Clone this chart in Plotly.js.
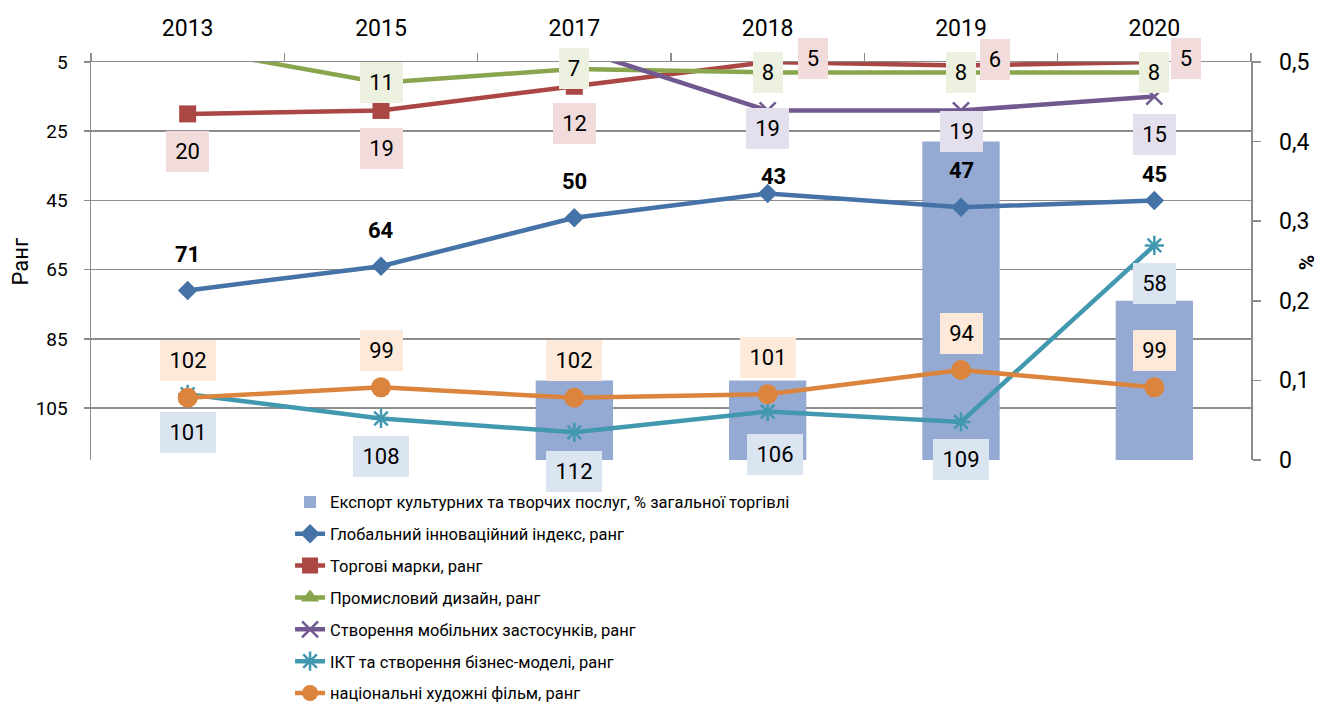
<!DOCTYPE html>
<html><head><meta charset="utf-8">
<script src="https://cdn.plot.ly/plotly-3.0.1.min.js"></script>
<style>body{margin:0;background:#fff}#chart{width:1320px;height:707px}</style>
</head><body><div id="chart"></div>
<script>
// ---- data ----
const years = ['2013', '2015', '2017', '2018', '2019', '2020'];
const exportShare = [null, null, 0.1, 0.1, 0.4, 0.2];
const giiRank = [71, 64, 50, 43, 47, 45];
const trademarkRank = [20, 19, 12, 5, 6, 5];
const designRank = [1, 11, 7, 8, 8, 8];
const mobileAppsRank = [null, null, 1, 19, 19, 15];
const ictRank = [101, 108, 112, 106, 109, 58];
const filmRank = [102, 99, 102, 101, 94, 99];

const seriesNames = [
  'Експорт культурних та творчих послуг, % загальної торгівлі',
  'Глобальний інноваційний індекс, ранг',
  'Торгові марки, ранг',
  'Промисловий дизайн, ранг',
  'Створення мобільних застосунків, ранг',
  'ІКТ та створення бізнес-моделі, ранг',
  'національні художні фільм, ранг'
];

// ---- style ----
const FONT = 'Roboto, "Noto Sans", sans-serif';
const GREY = '#8c8c8c';
const rankRange = [120, 5];

const lineSeries = [
  {values: giiRank, color: '#4572A7', symbol: 'diamond', size: 15, label: {bg: 'rgba(0,0,0,0)', bold: true, dx: [0,0,0,6,0,0], dy: [35.5,36,36,17.5,36.5,25.5]}},
  {values: trademarkRank, color: '#AA4643', symbol: 'square', size: 17, label: {bg: '#F2DCDB', dx: [0,0,0,45.5,34,32], dy: [-37.5,-38,-37.5,4,5.5,4]}},
  {values: designRank, color: '#89A54E', symbol: 'triangle-up', size: 17, label: {bg: '#EBF1DE', dx: [0,0,0,0,0,0], dy: [0,0,0,0,0,0]}},
  {values: mobileAppsRank, color: '#71588F', symbol: 'x-thin-open', size: 16, open: true, label: {bg: '#E4DFEC', dx: [0,0,0,0,0,0], dy: [0,0,0,-18,-21.5,-38]}},
  {values: ictRank, color: '#4198AF', symbol: 'asterisk-open', size: 16, open: true, label: {bg: '#DBE5F1', dx: [0,0,0,7,0,0], dy: [-38,-38,-39,-43,-37.5,-38]}},
  {values: filmRank, color: '#DB843D', symbol: 'circle', size: 20, label: {bg: '#FDE9D9', dx: [0,0,0,0,0,0], dy: [37,37,37,37,37,37]}}
];

const traces = [{
  type: 'bar', x: years, y: exportShare, name: seriesNames[0],
  marker: {color: '#95AAD2'}, width: 0.4, xaxis: 'x', yaxis: 'y',
  legendgroup: 'g0', hoverinfo: 'skip'
}];

const annotations = [];
lineSeries.forEach((s, k) => {
  traces.push({
    type: 'scatter', mode: 'lines+markers', x: years, y: s.values, name: seriesNames[k + 1],
    xaxis: 'x', yaxis: 'y2', legendgroup: 'g' + (k + 1), cliponaxis: false,
    line: {color: s.color, width: 4.5},
    marker: s.open ? {symbol: s.symbol, size: s.size, color: s.color, line: {color: s.color, width: 2.5}}
                   : {symbol: s.symbol, size: s.size, color: s.color, line: {width: 0}},
    hoverinfo: 'skip'
  });
  s.values.forEach((v, i) => {
    if (v === null || v < rankRange[1] || v > rankRange[0]) return;
    const txt = String(v);
    const a = {
      x: i, y: v, xref: 'x', yref: 'y2', text: s.label.bold ? '<b>' + txt + '</b>' : txt,
      xanchor: 'center', yanchor: 'middle',
      showarrow: false, xshift: s.label.dx[i], yshift: s.label.dy[i],
      font: {family: FONT, size: 22, color: '#000'},
      bgcolor: s.label.bg, borderwidth: 0, borderpad: 4
    };
    if (!s.label.bold) { a.width = Math.round(13.3 * txt.length + 8.5); a.height = 33; }
    annotations.push(a);
  });
});

annotations.push({
  text: 'Ранг', xref: 'paper', yref: 'paper', x: -0.0608, y: 0.5, showarrow: false,
  xanchor: 'center', yanchor: 'middle',
  textangle: -90, font: {family: FONT, size: 22, color: '#000'}
});
annotations.push({
  text: '<b>%</b>', xref: 'paper', yref: 'paper', x: 1.0483, y: 0.497, showarrow: false,
  xanchor: 'center', yanchor: 'middle',
  textangle: -90, font: {family: FONT, size: 21, color: '#000'}
});

const layout = {
  width: 1320, height: 707,
  margin: {l: 91, r: 69, t: 62, b: 247, autoexpand: false},
  paper_bgcolor: '#fff', plot_bgcolor: 'rgba(0,0,0,0)',
  separators: ', ',
  font: {family: FONT, color: '#000'},
  showlegend: true,
  xaxis: {
    type: 'category', side: 'top', range: [-0.5, 5.5], fixedrange: true,
    showline: true, linecolor: GREY, linewidth: 1.5,
    ticks: 'outside', tickson: 'boundaries', ticklen: 8, tickcolor: GREY, tickwidth: 1.5,
    ticklabelstandoff: 15,
    tickfont: {family: FONT, size: 23, color: '#000'}, showgrid: false, zeroline: false
  },
  yaxis: {
    side: 'right', range: [0, 0.5], dtick: 0.1, tick0: 0,
    showline: true, linecolor: GREY, linewidth: 1.5,
    ticks: 'outside', ticklen: 8, tickcolor: GREY, tickwidth: 1.5,
    ticklabelstandoff: 14,
    tickfont: {family: FONT, size: 23, color: '#000'}, showgrid: false, zeroline: false
  },
  yaxis2: {
    overlaying: 'y', side: 'left', range: rankRange, tick0: 5, dtick: 20,
    showline: true, linecolor: GREY, linewidth: 1.5,
    ticks: 'outside', ticklen: 6, tickcolor: GREY, tickwidth: 1.5,
    ticklabelstandoff: 12,
    showgrid: true, gridcolor: GREY, gridwidth: 1.5, zeroline: false,
    tickfont: {family: FONT, size: 19, color: '#000'}
  },
  legend: {
    x: 0.1716, y: -0.062, xanchor: 'left', yanchor: 'top',
    font: {family: FONT, size: 16.5, color: '#000'},
    traceorder: 'grouped', tracegroupgap: 7.4, bgcolor: 'rgba(0,0,0,0)'
  },
  annotations: annotations,
  bargap: 0.6
};

Plotly.newPlot('chart', traces, layout, {displayModeBar: false, staticPlot: true});
</script>
</body></html>
